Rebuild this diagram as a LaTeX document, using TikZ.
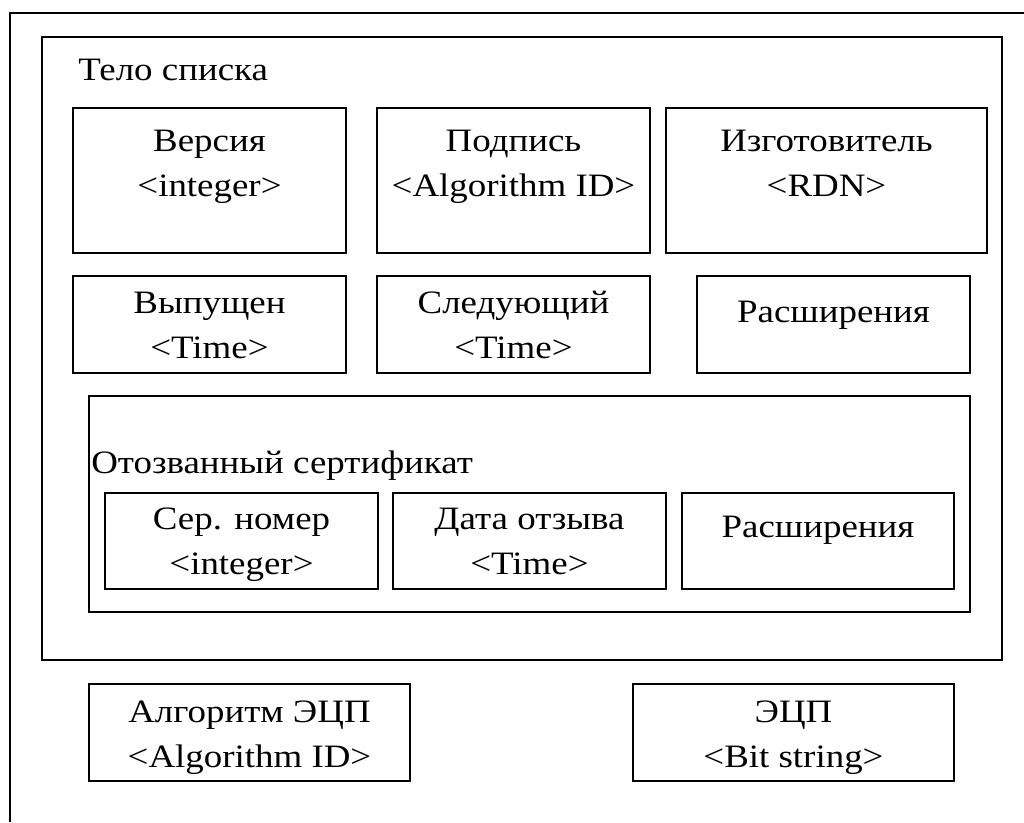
\documentclass[tikz,border=0pt]{standalone}
\usepackage{fontspec}
\setmainfont{Liberation Serif}[FakeStretch=1.13]
\usetikzlibrary{positioning,fit}

\begin{document}
\begin{tikzpicture}[x=0.75pt,y=-0.75pt,
      field/.style={
         rectangle,
         draw=black,
         line width=1.3pt,
         inner sep=0pt
      },
      fieldtext/.style={
         anchor=base,
         align=center,
         inner sep=0pt,
         font=\fontsize{24.5}{33.5}\selectfont
      },
      caption/.style={
         anchor=base west,
         inner sep=0pt,
         font=\fontsize{24.5}{33.5}\selectfont
      }
    ]
    \useasboundingbox (0,0) rectangle (1024,822);
    % frame of the page
    \draw[line width=1.3pt] (10,822) |- (1024,13);
    % list body
    \node (body) [field, fit={(42,37) (1002,660)}] {};
    \node (body-t) [caption] at (78,80) {Тело списка};
    \node (ver) [field, fit={(73,108) (346,253)}] {};
    \node (sig) [field, fit={(377,108) (650,253)}] {};
    \node (iss) [field, fit={(666,108) (987,253)}] {};
    \node (ver-t) [fieldtext] at ([yshift=-66.75pt]ver.north) {Версия\\<integer>};
    \node (sig-t) [fieldtext] at ([yshift=-66.75pt]sig.north) {Подпись\\<Algorithm ID>};
    \node (iss-t) [fieldtext] at ([yshift=-66.75pt]iss.north) {Изготовитель\\<RDN>};
    \node (upd) [field, fit={(73,276) (346,373)}] {};
    \node (nxt) [field, fit={(377,276) (650,373)}] {};
    \node (ext) [field, fit={(697,276) (970,373)}] {};
    \node (upd-t) [fieldtext] at ([yshift=-62.25pt]upd.north) {Выпущен\\<Time>};
    \node (nxt-t) [fieldtext] at ([yshift=-62.25pt]nxt.north) {Следующий\\<Time>};
    \node (ext-t) [fieldtext] at ([yshift=-35.25pt]ext.north) {Расширения};
    % revoked certificate
    \node (rev) [field, fit={(89,396) (970,612)}] {};
    \node (rev-t) [caption] at (91,473) {Отозванный сертификат};
    \node (ser) [field, fit={(105,493) (378,589)}] {};
    \node (dat) [field, fit={(393,493) (666,589)}] {};
    \node (rext) [field, fit={(682,493) (954,589)}] {};
    \node (ser-t) [fieldtext] at ([yshift=-61.5pt]ser.north) {Сер. номер\\<integer>};
    \node (dat-t) [fieldtext] at ([yshift=-61.5pt]dat.north) {Дата отзыва\\<Time>};
    \node (rext-t) [fieldtext] at ([yshift=-33.75pt]rext.north) {Расширения};
    % signature
    \node (alg) [field, fit={(89,684) (410,781)}] {};
    \node (sgn) [field, fit={(633,684) (954,781)}] {};
    \node (alg-t) [fieldtext] at ([yshift=-63pt]alg.north) {Алгоритм ЭЦП\\<Algorithm ID>};
    \node (sgn-t) [fieldtext] at ([yshift=-63pt]sgn.north) {ЭЦП\\<Bit string>};
\end{tikzpicture}
\end{document}
